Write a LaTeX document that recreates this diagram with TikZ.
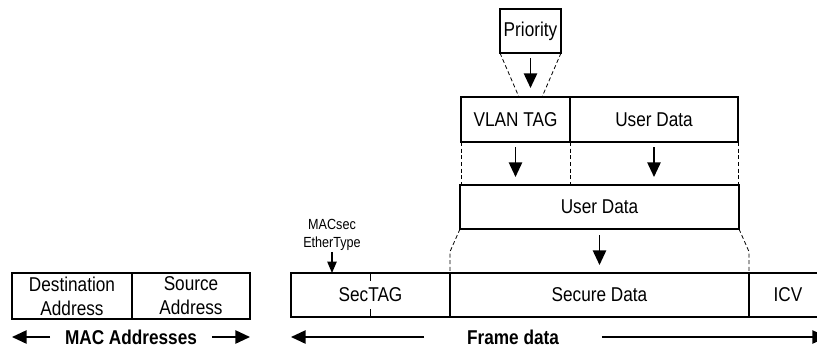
\documentclass[tikz,border=0pt]{standalone}
\usepackage{fontspec}
\setmainfont{Liberation Sans}[FakeStretch=0.86]
\usepackage{tikz}
\usetikzlibrary{arrows.meta, positioning}

\begin{document}
\begin{tikzpicture}[x=0.75pt, y=-0.75pt,
    field/.style={draw, line width=1.2pt, rectangle, outer sep=0pt, inner sep=1pt, minimum height=33pt, align=center, font=\fontsize{15}{18}\selectfont},
    guide/.style={line width=0.6pt, dash pattern=on 3pt off 2pt},
    arr/.style={line width=1.2pt, -{Triangle[length=11pt,width=10pt]}},
    smallarr/.style={line width=1pt, -{Triangle[length=8.5pt,width=7pt]}},
    caption/.style={font=\bfseries\fontsize{15}{17}\selectfont, inner sep=1pt},
]
    \useasboundingbox (0,0) rectangle (817,347);
    \node[field, minimum width=90pt, minimum height=34.5pt] (dst) at (72,296) {Destination\\Address};
    \node[field, minimum width=88.5pt, minimum height=34.5pt, right=0pt of dst] (src) {Source\\Address};
    \node[field, minimum width=119.25pt] (sectag) at (370.5,295) {SecTAG};
    \node[field, minimum width=224.25pt, right=0pt of sectag] (secure) {Secure Data};
    \node[field, minimum width=58.5pt, right=0pt of secure] (icv) {ICV};
    \node[field, minimum width=209.25pt] (inner) at (599.5,207) {User Data};
    \node[field, minimum width=81.75pt, minimum height=33.75pt] (vlan) at (515.5,119.5) {VLAN TAG};
    \node[field, minimum width=126pt, minimum height=33.75pt, right=0pt of vlan] (outer) {User Data};
    \node[field, minimum width=45.75pt] (prio) at (530.5,31) {Priority};
    \node[font=\fontsize{11}{13}\selectfont, align=center, inner sep=1pt] (ethtype) at (332,235) {MACsec\\EtherType};
    \node[caption] (mac) at (131,337) {MAC Addresses};
    \node[caption] (fdata) at (513,337) {Frame data};

    \draw[line width=0.8pt, dash pattern=on 6pt off 21pt] (sectag.north) -- (sectag.south);

    \draw[guide] (prio.south west) -- ([xshift=2.6pt]vlan.north);
    \draw[guide] (prio.south east) -- ([xshift=19.9pt]vlan.north);
    \draw[arr, shorten <=3.75pt, shorten >=6.75pt] (prio.south) -- (prio.south |- vlan.north);

    \draw[guide] (vlan.south west) -- (vlan.south west |- inner.north);
    \draw[guide] (vlan.south east) -- (vlan.south east |- inner.north);
    \draw[guide] (outer.south east) -- (outer.south east |- inner.north);
    \draw[arr, shorten <=3.75pt, shorten >=6pt] (vlan.south) -- (vlan.south |- inner.north);
    \draw[arr, shorten <=3.75pt, shorten >=6pt] (outer.south) -- (outer.south |- inner.north);

    \draw[guide] (inner.south west) -- ([yshift=16pt]secure.north west) -- (secure.north west);
    \draw[guide] (inner.south east) -- ([yshift=16pt]secure.north east) -- (secure.north east);
    \draw[arr, shorten <=4.5pt, shorten >=6pt] (inner.south) -- (inner.south |- secure.north);

    \draw[smallarr] (ethtype.south) -- (ethtype.south |- sectag.north);

    \draw[arr] ([xshift=-10pt]mac.west) -- (mac.west -| dst.west);
    \draw[arr] ([xshift=10pt]mac.east) -- (mac.east -| src.east);
    \draw[arr] ([xshift=-31pt]fdata.west) -- (fdata.west -| sectag.west);
    \draw[arr] ([xshift=31pt]fdata.east) -- (fdata.east -| icv.east);
\end{tikzpicture}
\end{document}
